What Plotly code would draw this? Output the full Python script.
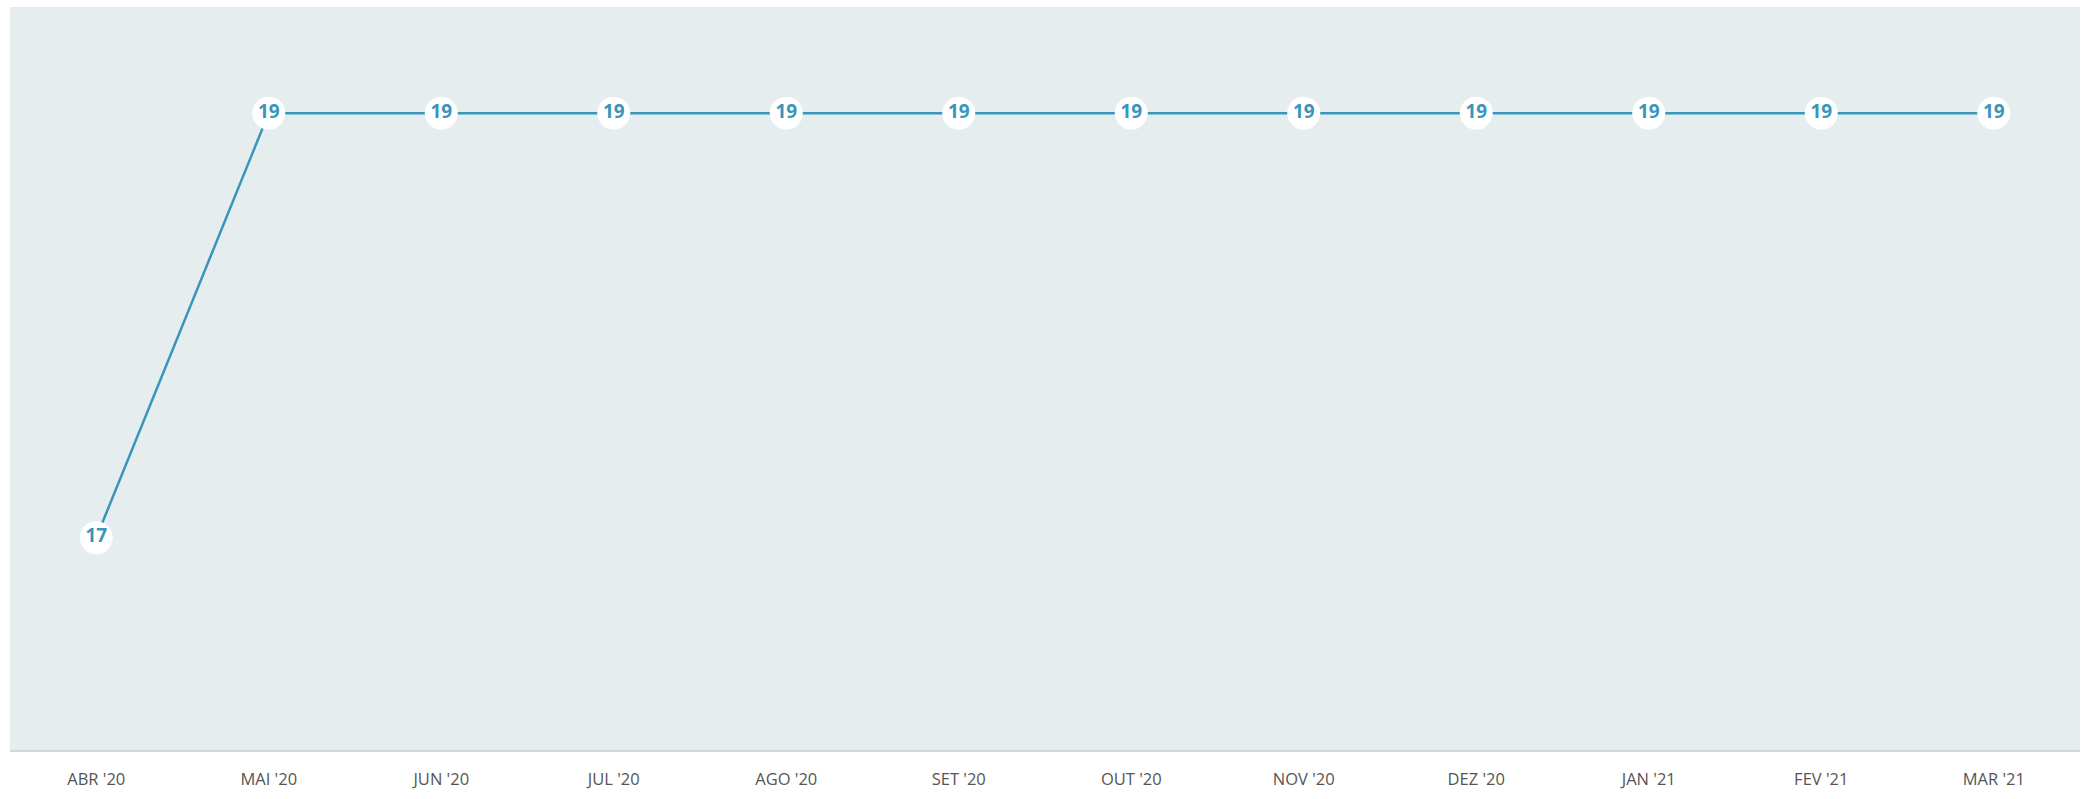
import plotly.graph_objects as go

months = ["ABR '20", "MAI '20", "JUN '20", "JUL '20", "AGO '20", "SET '20",
          "OUT '20", "NOV '20", "DEZ '20", "JAN '21", "FEV '21", "MAR '21"]
values = [17, 19, 19, 19, 19, 19, 19, 19, 19, 19, 19, 19]

line_color = '#3a95bb'

fig = go.Figure()
fig.add_trace(go.Scatter(
    x=months,
    y=values,
    mode='lines+markers+text',
    line=dict(color=line_color, width=2.5),
    marker=dict(size=33, color='white', line=dict(width=0)),
    text=[str(v) for v in values],
    textposition='middle center',
    textfont=dict(family='Open Sans', size=19, color=line_color, weight='bold'),
    cliponaxis=False,
    hoverinfo='x+y'
))

fig.update_layout(
    width=2087, height=799,
    paper_bgcolor='white',
    plot_bgcolor='#e5edee',
    margin=dict(l=10, r=7, t=7, b=49),
    showlegend=False,
    xaxis=dict(
        type='category',
        range=[-0.5, len(months) - 0.5],
        showgrid=False, zeroline=False,
        showline=True, linecolor='#d2d7d9', linewidth=2,
        ticks='outside', ticklen=13, tickcolor='rgba(0,0,0,0)',
        tickfont=dict(family='Open Sans', size=16.5, color='#555555')
    ),
    yaxis=dict(
        range=[16, 19.5],
        showgrid=False, zeroline=False, showticklabels=False,
        showline=False
    )
)

# page without default body margin so the figure sits at the window corner
fig.write_html("out.html", config={'displayModeBar': False},
               post_script="document.body.style.margin='0';")
